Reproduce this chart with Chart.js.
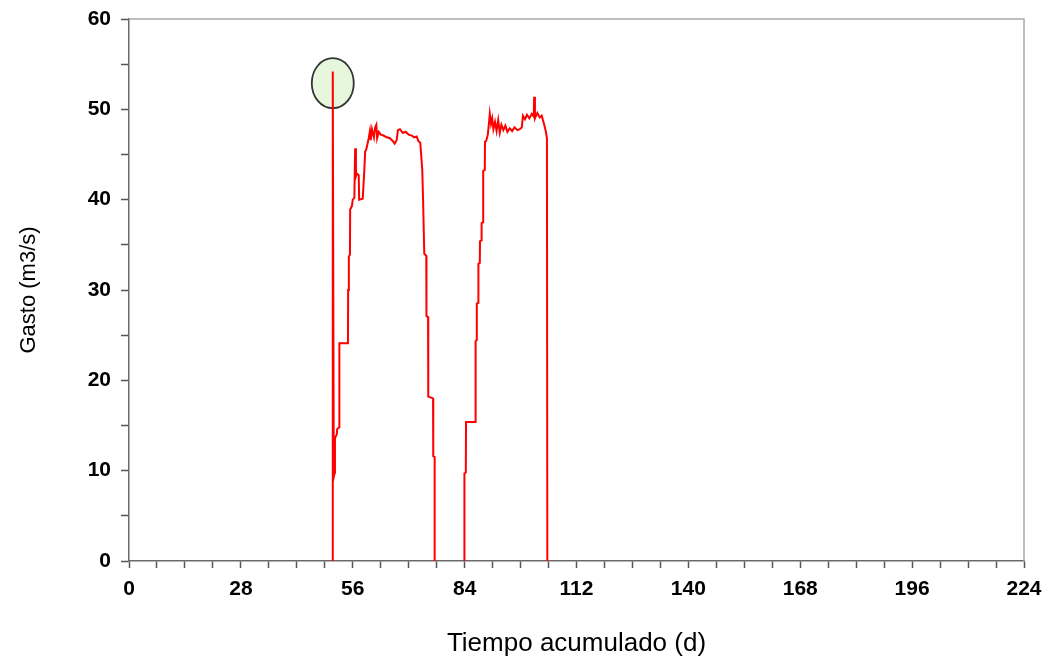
<!DOCTYPE html>
<html>
<head>
<meta charset="utf-8">
<script src="https://cdn.jsdelivr.net/npm/chart.js@4.4.1/dist/chart.umd.min.js"></script>
<style>
    html, body { margin:0; padding:0; background:#ffffff; }
    #wrap { width:1046px; height:663px; position:relative; }
</style>
</head>
<body>
<div id="wrap"><canvas id="gastoChart" width="1046" height="663"></canvas></div>
<script>

/* =====================================
   DATA
===================================== */

const tiempoDias = [
    51.0, 51.0, 51.25, 51.5, 51.55, 52.0, 52.1, 52.6, 52.65, 54.8,
    54.85, 55.0, 55.05, 55.3, 55.35, 55.8, 56.0, 56.4, 56.6, 56.8,
    57.0, 57.5, 57.6, 58.5, 58.9, 59.1, 59.4, 60.0, 60.3, 60.5,
    60.8, 61.3, 61.6, 61.9, 62.1, 62.5, 63.0, 63.7, 64.5, 65.3,
    66.0, 66.5, 67.0, 67.3, 67.8, 68.5, 69.3, 70.0, 70.8, 71.3,
    72.0, 72.4, 72.9, 73.4, 73.6, 73.9, 74.4, 74.45, 74.85, 74.9,
    76.1, 76.15, 76.5, 76.5,
    80.0,
    83.9, 83.95, 84.3, 84.35, 86.7, 86.75, 87.0, 87.05, 87.4, 87.45,
    87.8, 87.85, 88.2, 88.25, 88.6, 88.65, 89.05, 89.1, 89.4, 89.8,
    90.1, 90.3, 90.6, 90.9, 91.2, 91.6, 92.0, 92.4, 92.8, 93.2,
    93.7, 94.2, 94.7, 95.3, 95.9, 96.5, 97.2, 97.8, 98.3, 98.6,
    99.1, 99.6, 100.2, 100.8, 101.3, 101.4, 101.6, 102.2, 102.8, 103.3,
    103.8, 104.3, 104.6, 104.7
];

const gastoM3s = [
    0, 54.2, 9.3, 9.8, 13.6, 14.0, 14.6, 14.8, 24.1, 24.1,
    30.0, 30.2, 33.7, 33.9, 38.9, 39.3, 40.0, 40.2, 45.7, 42.6,
    42.9, 42.7, 40.0, 40.1, 43.3, 45.3, 45.6, 46.8, 47.6, 46.6,
    47.8, 46.9, 48.0, 48.3, 46.8, 47.5, 47.2, 47.1, 46.9, 46.8,
    46.5, 46.2, 46.6, 47.7, 47.8, 47.4, 47.5, 47.2, 47.1, 46.9,
    47.0, 46.5, 46.3, 43.3, 40.0, 34.0, 33.8, 27.1, 27.0, 18.2,
    18.0, 11.6, 11.5, 0,
    null,
    0, 9.7, 9.8, 15.4, 15.4, 24.3, 24.5, 28.5, 28.6, 32.9,
    33.0, 35.4, 35.5, 37.4, 37.5, 43.2, 43.3, 46.4, 46.5, 47.2,
    48.5, 49.5, 48.4, 49.0, 47.8, 48.6, 47.6, 48.8, 47.4, 48.3,
    47.7, 48.2, 47.5, 47.9, 47.6, 48.0, 47.7, 47.8, 48.0, 49.3,
    48.9, 49.4, 49.0, 49.5, 49.2, 51.4, 49.0, 49.6, 49.1, 49.3,
    48.5, 47.6, 46.8, 0
];

const ejeXTicks = [0, 28, 56, 84, 112, 140, 168, 196, 224];
const ejeYTicks = [0, 10, 20, 30, 40, 50, 60];

/* punto marcado con elipse */
const marcaDia = 51.0;
const marcaGasto = 52.9;

/* =====================================
   INIT
===================================== */

document.addEventListener("DOMContentLoaded", () => {

    initializeGastoChart();

});

/* =====================================
   PLUGINS
===================================== */

const marcoPlugin = {

    id:"marco",

    afterDraw(chart){

        const a = chart.chartArea;
        const ctx = chart.ctx;

        ctx.save();
        ctx.strokeStyle = "#a8a8a8";
        ctx.lineWidth = 1.5;
        ctx.beginPath();
        ctx.moveTo(a.left, a.top);
        ctx.lineTo(a.right, a.top);
        ctx.lineTo(a.right, a.bottom);
        ctx.stroke();
        ctx.restore();

    }

};

const elipsePlugin = {

    id:"elipse",

    beforeDatasetsDraw(chart){

        const ctx = chart.ctx;
        const cx = chart.scales.x.getPixelForValue(marcaDia);
        const cy = chart.scales.y.getPixelForValue(marcaGasto);

        ctx.save();
        ctx.beginPath();
        ctx.ellipse(cx, cy, 21, 25, 0, 0, Math.PI * 2);
        ctx.fillStyle = "#e6f7de";
        ctx.fill();
        ctx.lineWidth = 1.8;
        ctx.strokeStyle = "#333333";
        ctx.stroke();
        ctx.restore();

    }

};

/* =====================================
   GASTO CHART
===================================== */

function initializeGastoChart(){

    const ctx =
        document.getElementById("gastoChart");

    if(!ctx) return;

    const puntos =
        tiempoDias.map((d, i) => ({ x:d, y:gastoM3s[i] }));

    new Chart(ctx,{

        type:"line",

        data:{

            datasets:[

                {
                    label:"Gasto",

                    data:puntos,

                    borderColor:"#ff0000",

                    borderWidth:2,

                    pointRadius:0,

                    tension:0,

                    spanGaps:false
                }

            ]

        },

        options:{

            responsive:false,

            animation:false,

            layout:{
                padding:{ top:19, right:22, bottom:0, left:0 }
            },

            plugins:{
                legend:{ display:false },
                tooltip:{ enabled:false }
            },

            scales:{

                x:{
                    type:"linear",
                    min:0,
                    max:224,
                    afterFit(scale){
                        scale.height = 102;
                        scale.paddingLeft = 0;
                        scale.paddingRight = 0;
                    },
                    border:{ color:"#6a6a6a", width:1.5 },
                    grid:{
                        drawOnChartArea:false,
                        tickLength:7,
                        tickColor:"#555555",
                        tickWidth:1.5
                    },
                    ticks:{
                        stepSize:7,
                        autoSkip:false,
                        maxRotation:0,
                        padding:9,
                        color:"#000000",
                        font:{ family:"Liberation Sans, Arial", size:21, weight:"bold" },
                        callback:(v) => ejeXTicks.includes(v) ? v : ""
                    },
                    title:{
                        display:true,
                        text:"Tiempo acumulado (d)",
                        color:"#000000",
                        padding:{ top:0, bottom:4 },
                        font:{ family:"Liberation Sans, Arial", size:26 }
                    }
                },

                y:{
                    min:0,
                    max:60,
                    afterFit(scale){
                        scale.width = 129;
                        scale.paddingTop = 0;
                        scale.paddingBottom = 0;
                    },
                    border:{ color:"#6a6a6a", width:1.5 },
                    grid:{
                        drawOnChartArea:false,
                        tickLength:8,
                        tickColor:"#555555",
                        tickWidth:1.5
                    },
                    ticks:{
                        stepSize:5,
                        autoSkip:false,
                        padding:10,
                        color:"#000000",
                        font:{ family:"Liberation Sans, Arial", size:21, weight:"bold" },
                        callback:(v) => ejeYTicks.includes(v) ? v : ""
                    },
                    title:{
                        display:true,
                        text:"Gasto (m3/s)",
                        color:"#000000",
                        padding:{ top:16, bottom:0 },
                        font:{ family:"Liberation Sans, Arial", size:22 }
                    }
                }

            }

        },

        plugins:[ elipsePlugin, marcoPlugin ]

    });

}

</script>
</body>
</html>
